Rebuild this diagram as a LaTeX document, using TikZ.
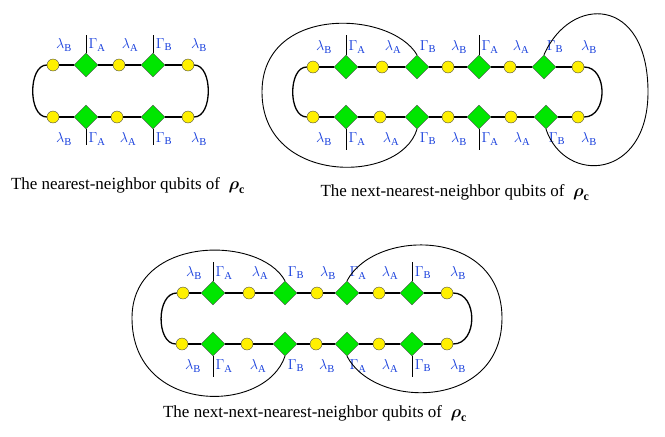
\documentclass[tikz,border=0pt]{standalone}
\usepackage{amsmath}
\usepackage{fontspec}
\setmainfont{Liberation Serif}
\usetikzlibrary{shapes.geometric}
\definecolor{qgreen}{RGB}{0,230,0}
\definecolor{qyellow}{RGB}{255,240,0}
\definecolor{qblue}{RGB}{20,60,220}
\tikzset{
  qc/.style={circle,draw=black!70,fill=qyellow,minimum size=12pt,inner sep=0pt,line width=0.4pt},
  qd/.style={diamond,draw=black!70,fill=qgreen,minimum size=24pt,inner sep=0pt,line width=0.4pt},
  bond/.style={line width=1.3pt},
  leg/.style={line width=1pt},
  bigloop/.style={line width=0.9pt},
  lab/.style={text=qblue,font=\fontsize{15}{15}\selectfont,inner sep=0pt},
  captxt/.style={font=\fontsize{17}{17}\selectfont,inner sep=0pt}
}
\newcommand\chainrow[4]{%
  \foreach \x/\t/\l [count=\i] in {#4}{
    \node[q\t] (#1\i) at (\x,#2) {};
    \ifx\t c\def\dx{-2}\else\def\dx{11}\fi
    \node[lab] (#1l\i) at (\x+\dx,#2+#3) {$\l$};
  }%
}
\newcommand\bonds[2]{%
  \foreach \i [remember=\i as \j (initially 1)] in {2,...,#2}{
    \begin{pgfonlayer}{background}\draw[bond] (#1\j) -- (#1\i);\end{pgfonlayer}
  }%
}
\pgfdeclarelayer{background}
\pgfsetlayers{background,main}
\begin{document}
\begin{tikzpicture}[x=1pt,y=-1pt]
\useasboundingbox (0,0) rectangle (665,437);
% ---------- top left
\chainrow{a}{65}{-20}{53/c/\lambda_{\mathrm B},86/d/\Gamma_{\mathrm A},119/c/\lambda_{\mathrm A},153/d/\Gamma_{\mathrm B},188/c/\lambda_{\mathrm B}}
\chainrow{b}{117}{22}{53/c/\lambda_{\mathrm B},86/d/\Gamma_{\mathrm A},117/c/\lambda_{\mathrm A},153/d/\Gamma_{\mathrm B},188/c/\lambda_{\mathrm B}}
\bonds{a}{5}\bonds{b}{5}
\draw[bond] (a1.west) .. controls (28,65) and (28,117) .. (b1.west);
\draw[bond] (a5.east) .. controls (213,65) and (213,117) .. (b5.east);
\coordinate (ua2) at (86,35); \coordinate (ua4) at (153,35);
\coordinate (ub2) at (86,145); \coordinate (ub4) at (153,145);
\draw[leg] (a2.north) -- (ua2); \draw[leg] (a4.north) -- (ua4);
\draw[leg] (b2.south) -- (ub2); \draw[leg] (b4.south) -- (ub4);
\node[captxt] (capA) at (128,186) {The nearest-neighbor qubits of \ $\boldsymbol{\rho}_{\mathbf c}$};
% ---------- top right
\chainrow{c}{67}{-20}{313/c/\lambda_{\mathrm B},346/d/\Gamma_{\mathrm A},382/c/\lambda_{\mathrm A},417/d/\Gamma_{\mathrm B},448/c/\lambda_{\mathrm B},479/d/\Gamma_{\mathrm A},510/c/\lambda_{\mathrm A},544/d/\Gamma_{\mathrm B},578/c/\lambda_{\mathrm B}}
\chainrow{d}{117}{22}{313/c/\lambda_{\mathrm B},346/d/\Gamma_{\mathrm A},380/c/\lambda_{\mathrm A},417/d/\Gamma_{\mathrm B},448/c/\lambda_{\mathrm B},479/d/\Gamma_{\mathrm A},511/c/\lambda_{\mathrm A},546/d/\Gamma_{\mathrm B},578/c/\lambda_{\mathrm B}}
\bonds{c}{9}\bonds{d}{9}
\draw[bond] (c1.west) .. controls (288,67) and (288,117) .. (d1.west);
\draw[bond] (c9.east) .. controls (608,67) and (608,117) .. (d9.east);
\coordinate (uc2) at (346,35); \coordinate (uc6) at (479,35);
\coordinate (ud2) at (346,150); \coordinate (ud6) at (479,150);
\draw[leg] (c2.north) -- (uc2); \draw[leg] (c6.north) -- (uc6);
\draw[leg] (d2.south) -- (ud2); \draw[leg] (d6.south) -- (ud6);
\draw[bigloop] (c4.north) .. controls (390,10) and (262,5) .. (262,92) .. controls (262,185) and (400,185) .. (d4.south);
\draw[bigloop] (c8.north) .. controls (570,-5) and (648,-5) .. (648,92) .. controls (648,180) and (565,185) .. (d8.south);
\node[captxt] (capB) at (455,193) {The next-nearest-neighbor qubits of \ $\boldsymbol{\rho}_{\mathbf c}$};
% ---------- bottom
\chainrow{e}{293}{-20}{183/c/\lambda_{\mathrm B},213/d/\Gamma_{\mathrm A},249/c/\lambda_{\mathrm A},285/d/\Gamma_{\mathrm B},317/c/\lambda_{\mathrm B},347/d/\Gamma_{\mathrm A},379/c/\lambda_{\mathrm A},412/d/\Gamma_{\mathrm B},447/c/\lambda_{\mathrm B}}
\chainrow{f}{344}{22}{182/c/\lambda_{\mathrm B},213/d/\Gamma_{\mathrm A},247/c/\lambda_{\mathrm A},285/d/\Gamma_{\mathrm B},316/c/\lambda_{\mathrm B},347/d/\Gamma_{\mathrm A},379/c/\lambda_{\mathrm A},412/d/\Gamma_{\mathrm B},447/c/\lambda_{\mathrm B}}
\bonds{e}{9}\bonds{f}{9}
\draw[bond] (e1.west) .. controls (156,293) and (156,344) .. (f1.west);
\draw[bond] (e9.east) .. controls (478,293) and (478,344) .. (f9.east);
\coordinate (ue2) at (213,262); \coordinate (ue8) at (412,262);
\coordinate (uf2) at (213,377); \coordinate (uf8) at (412,377);
\draw[leg] (e2.north) -- (ue2); \draw[leg] (e8.north) -- (ue8);
\draw[leg] (f2.south) -- (uf2); \draw[leg] (f8.south) -- (uf8);
\draw[bigloop] (e4.north) .. controls (260,235) and (132,235) .. (132,318) .. controls (132,415) and (265,415) .. (f4.south);
\draw[bigloop] (e6.north) .. controls (375,228) and (502,228) .. (502,318) .. controls (502,410) and (375,410) .. (f6.south);
\node[captxt] (capC) at (315,414) {The next-next-nearest-neighbor qubits of \ $\boldsymbol{\rho}_{\mathbf c}$};
\end{tikzpicture}
\end{document}
